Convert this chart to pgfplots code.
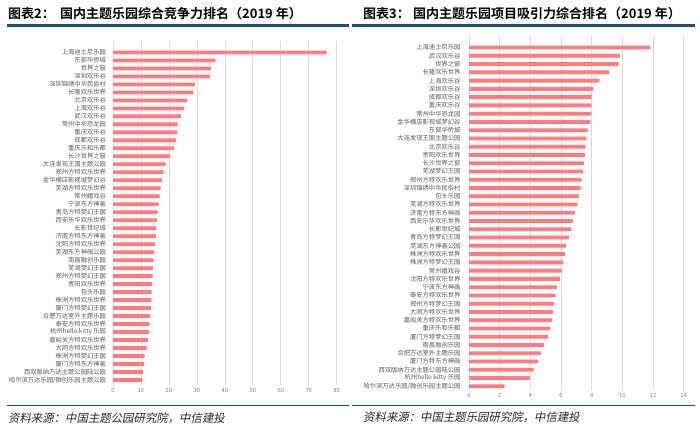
\documentclass[border=0pt]{standalone}
\usepackage{fontspec}
\setmainfont{Noto Sans CJK SC}[BoldFont={Noto Sans CJK SC Bold}]
\newfontfamily\footfont{Noto Sans CJK SC}[FakeSlant=0.2]
\usepackage{pgfplots}
\pgfplotsset{compat=1.18}
\definecolor{barred}{HTML}{FF7C80}
\definecolor{navy}{HTML}{1F4E79}
\definecolor{gridgray}{HTML}{D9D9D9}
\definecolor{labgray}{HTML}{595959}
\definecolor{tickgray}{HTML}{7F7F7F}
\pgfplotsset{myax/.style={
  scale only axis, xbar, bar width=3.8bp, y dir=reverse,
  axis line style={draw=none}, major tick length=0pt,
  xmajorgrids, ymajorgrids=false, grid style={gridgray, line width=0.7bp},
  ytick={1,...,42},
  /pgf/number format/assume math mode=true,
  yticklabel style={font=\fontsize{6.3bp}{7bp}\selectfont, text=labgray},
  xticklabel style={font=\fontsize{5.8bp}{7bp}\selectfont, text=tickgray},
}}
\begin{document}
\begin{tikzpicture}[x=1bp,y=1bp]
\useasboundingbox (0,0) rectangle (700,428);
\fill[white] (0,0) rectangle (700,428);
% titles
\node[anchor=west,inner sep=0,font=\fontsize{13bp}{15bp}\selectfont\bfseries] at (8,414) {图表2：};
\node[anchor=west,inner sep=0,font=\fontsize{13bp}{15bp}\selectfont\bfseries] at (60,414) {国内主题乐园综合竞争力排名（2019 年）};
\node[anchor=west,inner sep=0,font=\fontsize{13bp}{15bp}\selectfont\bfseries] at (363,414) {图表3：};
\node[anchor=west,inner sep=0,font=\fontsize{13bp}{15bp}\selectfont\bfseries] at (413,414) {国内主题乐园项目吸引力综合排名（2019 年）};
\draw[navy,line width=2.3bp] (7,402.5) -- (349,402.5);
\draw[navy,line width=2.3bp] (352,402.5) -- (695,402.5);
\draw[navy,line width=1.3bp] (7,22.3) -- (349,22.3);
\draw[navy,line width=1.3bp] (352,22.3) -- (695,22.3);
\node[anchor=west,inner sep=0,font=\fontsize{11.4bp}{13bp}\footfont,text=black!85] at (8,10) {资料来源：中国主题公园研究院，中信建投};
\node[anchor=west,inner sep=0,font=\fontsize{11.4bp}{13bp}\footfont,text=black!85] at (363,11) {资料来源：中国主题乐园研究院，中信建投};

\begin{axis}[myax, at={(113bp,43bp)}, anchor=south west,
  width=223.7bp, height=344bp, xmin=0, xmax=80, xtick={0,10,...,80},
  ymin=-0.44, ymax=42.63,
  yticklabel style={xshift=-3.5bp},
  yticklabels={上海迪士尼乐园,东部华侨城,世界之窗,深圳欢乐谷,深圳锦绣中华民俗村,长隆欢乐世界,北京欢乐谷,上海欢乐谷,武汉欢乐谷,常州中华恐龙园,重庆欢乐谷,成都欢乐谷,重庆乐和乐都,长沙世界之窗,大连发现王国主题公园,郑州方特欢乐世界,金华横店影视城梦幻谷,芜湖方特欢乐世界,常州嬉戏谷,宁波东方神画,青岛方特梦幻王国,西安乐华欢乐世界,长影世纪城,济南方特东方神画,沈阳方特欢乐世界,芜湖东方神画公园,南昌融创乐园,芜湖梦幻王国,郑州方特梦幻王国,贵阳欢乐世界,包头乐园,株洲方特欢乐世界,厦门方特梦幻王国,合肥万达室外主题乐园,泰安方特欢乐世界,杭州hello kitty 乐园,嘉峪关方特欢乐世界,大同方特欢乐世界,株洲方特梦幻王国,厦门方特东方神画,西双版纳万达主题公园陆公园,哈尔滨万达乐园/融创乐园主题公园}]
\addplot[fill=barred, draw=none] coordinates {
(76.4,1) (36.6,2) (35.0,3) (34.7,4) (29.3,5) (28.7,6) (26.6,7) (25.4,8) (24.3,9) (23.1,10)
(22.9,11) (22.6,12) (21.9,13) (20.4,14) (18.8,15) (18.1,16) (17.6,17) (17.0,18) (16.7,19) (16.3,20)
(16.0,21) (15.7,22) (15.5,23) (15.3,24) (15.0,25) (14.8,26) (14.5,27) (14.3,28) (14.2,29) (13.9,30)
(13.8,31) (13.7,32) (13.5,33) (13.3,34) (13.0,35) (12.8,36) (12.5,37) (12.0,38) (11.3,39) (11.1,40)
(10.8,41) (10.4,42)};
\end{axis}

\begin{axis}[myax, at={(469bp,38bp)}, anchor=south west,
  width=214.7bp, height=354bp, xmin=0, xmax=14, xtick={0,2,...,14},
  ymin=-0.40, ymax=42.45,
  yticklabel style={xshift=-5bp},
  yticklabels={上海迪士尼乐园,武汉欢乐谷,世界之窗,长隆欢乐世界,上海欢乐谷,深圳欢乐谷,成都欢乐谷,重庆欢乐谷,常州中华恐龙园,金华横店影视城梦幻谷,东部华侨城,大连发现王国主题公园,北京欢乐谷,贵阳欢乐世界,长沙世界之窗,芜湖梦幻王国,郑州方特欢乐世界,深圳锦绣中华民俗村,包头乐园,芜湖方特欢乐世界,济南方特东方神画,西安乐华欢乐世界,长影世纪城,青岛方特梦幻王国,芜湖东方神画公园,株洲方特欢乐世界,株洲方特梦幻王国,常州嬉戏谷,沈阳方特欢乐世界,宁波东方神画,泰安方特欢乐世界,郑州方特梦幻王国,大同方特欢乐世界,嘉峪关方特欢乐世界,重庆乐和乐都,厦门方特梦幻王国,南昌融创乐园,合肥万达室外主题乐园,厦门方特东方神画,西双版纳万达主题公园陆公园,杭州hello kitty 乐园,哈尔滨万达乐园/融创乐园主题公园}]
\addplot[fill=barred, draw=none] coordinates {
(11.82,1) (9.83,2) (9.76,3) (9.15,4) (8.50,5) (8.11,6) (8.00,7) (7.98,8) (7.94,9) (7.92,10)
(7.74,11) (7.66,12) (7.61,13) (7.57,14) (7.51,15) (7.44,16) (7.35,17) (7.27,18) (7.16,19) (7.07,20)
(6.90,21) (6.79,22) (6.68,23) (6.51,24) (6.31,25) (6.25,26) (6.14,27) (6.03,28) (5.92,29) (5.75,30)
(5.64,31) (5.55,32) (5.49,33) (5.42,34) (5.31,35) (5.16,36) (4.88,37) (4.71,38) (4.51,39) (4.21,40)
(3.95,41) (2.32,42)};
\end{axis}
\end{tikzpicture}
\end{document}
